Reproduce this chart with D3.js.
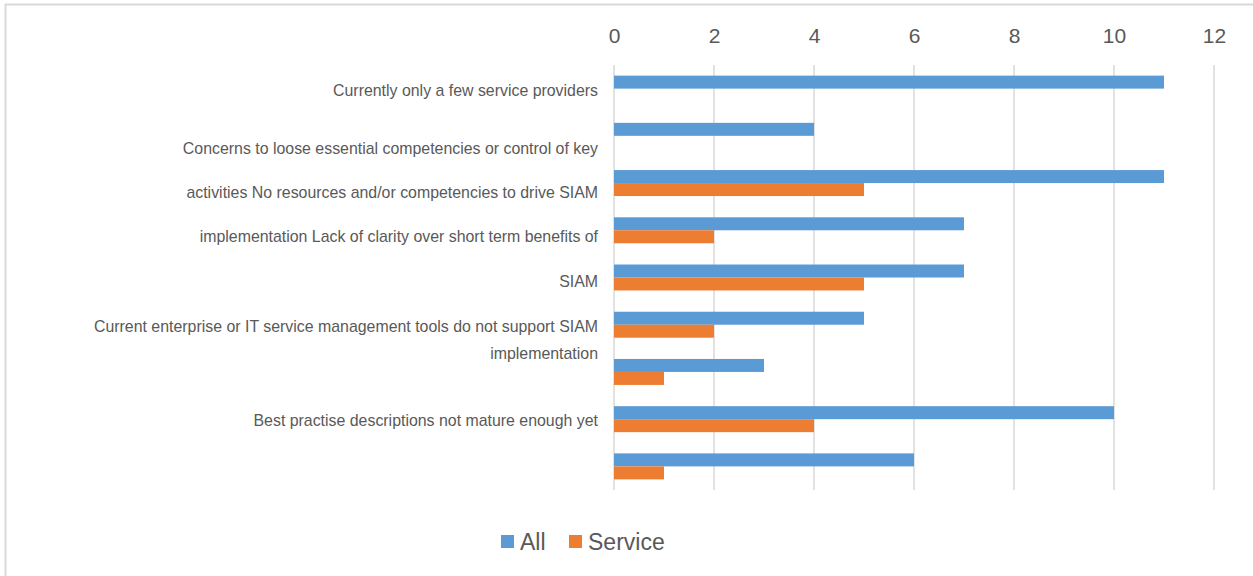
<!DOCTYPE html>
<html><head><meta charset="utf-8">
<script src="https://cdn.jsdelivr.net/npm/d3@7"></script>
<style>
html,body{margin:0;padding:0;background:#fff;}
svg{display:block;font-family:"Liberation Sans",Arial,sans-serif;}
</style></head>
<body>
<svg id="chart" width="1253" height="576"></svg>
<script>
// ---- data ----
const categories = ["c1","c2","c3","c4","c5","c6","c7","c8","c9"];
const seriesNames = ["All","Service"];
const allValues = [11, 4, 11, 7, 7, 5, 3, 10, 6];
const serviceValues = [0, 0, 5, 2, 5, 2, 1, 4, 1];
const xTicks = [0, 2, 4, 6, 8, 10, 12];
// axis label lines as they appear (category index they sit beside, text)
const labelLines = [
  [0, "Currently only a few service providers"],
  [1, "Concerns to loose essential competencies or control of key"],
  [2, "activities No resources and/or competencies to drive SIAM"],
  [3, "implementation Lack of clarity over short term benefits of"],
  [4, "SIAM"],
  [5, "Current enterprise or IT service management tools do not support SIAM"],
  [5, "implementation"],
  [7, "Best practise descriptions not mature enough yet"]
];
const labelShift = [3, 14, 11, 8, 5, 3, 30, 3, 0]; // per line, px below band centre

const colors = {"All":"#5b9bd5","Service":"#ed7d31"};
const textColor = "#595959";

const svg = d3.select("#chart");

// frame
svg.append("path")
  .attr("d","M5.5,580 V4.5 H1260")
  .attr("fill","none").attr("stroke","#d9d9d9").attr("stroke-width",2);

const plot = {left:614, right:1214, top:65, bottom:490};
const x = d3.scaleLinear().domain([0,12]).range([plot.left, plot.right]);
const y = d3.scaleBand().domain(categories).range([plot.top, plot.bottom])
  .paddingInner(0.45).paddingOuter(0.225);
const ySub = d3.scaleBand().domain(seriesNames).range([0, y.bandwidth()]);

// gridlines
svg.append("g").selectAll("line").data(xTicks).join("line")
  .attr("x1", d=>x(d)).attr("x2", d=>x(d))
  .attr("y1", plot.top).attr("y2", plot.bottom)
  .attr("stroke","#d9d9d9").attr("stroke-width",1.5);

// top axis labels
const xAxis = d3.axisTop(x).tickValues(xTicks).tickSize(0).tickPadding(0);
const gx = svg.append("g").attr("transform","translate(0,43)").call(xAxis);
gx.select(".domain").remove();
gx.selectAll("text").attr("fill",textColor).attr("font-size",21)
  .attr("font-family","'Liberation Sans',Arial,sans-serif");

// bars
const rows = categories.map((c,i)=>({cat:c, All:allValues[i], Service:serviceValues[i]}));
const g = svg.append("g");
seriesNames.forEach(s=>{
  g.selectAll("rect."+s).data(rows).join("rect")
    .attr("class", s)
    .attr("x", x(0))
    .attr("y", d=>y(d.cat)+ySub(s))
    .attr("width", d=>Math.max(0, x(d[s])-x(0)))
    .attr("height", ySub.bandwidth())
    .attr("fill", colors[s]);
});

// category labels
svg.append("g").selectAll("text").data(labelLines).join("text")
  .attr("x", 598)
  .attr("y", (d,i)=>y(categories[d[0]]) + y.bandwidth()/2 + labelShift[i])
  .attr("text-anchor","end")
  .attr("dominant-baseline","middle")
  .attr("fill",textColor).attr("font-size",15.9)
  .text(d=>d[1]);

// legend
const leg = svg.append("g");
const legItems = [{name:"All",x:501},{name:"Service",x:569}];
legItems.forEach(it=>{
  leg.append("rect").attr("x",it.x).attr("y",535).attr("width",13).attr("height",13)
    .attr("fill",colors[it.name]);
  leg.append("text").attr("x",it.x+19).attr("y",550)
    .attr("fill",textColor).attr("font-size",23).text(it.name);
});
</script>
</body></html>
